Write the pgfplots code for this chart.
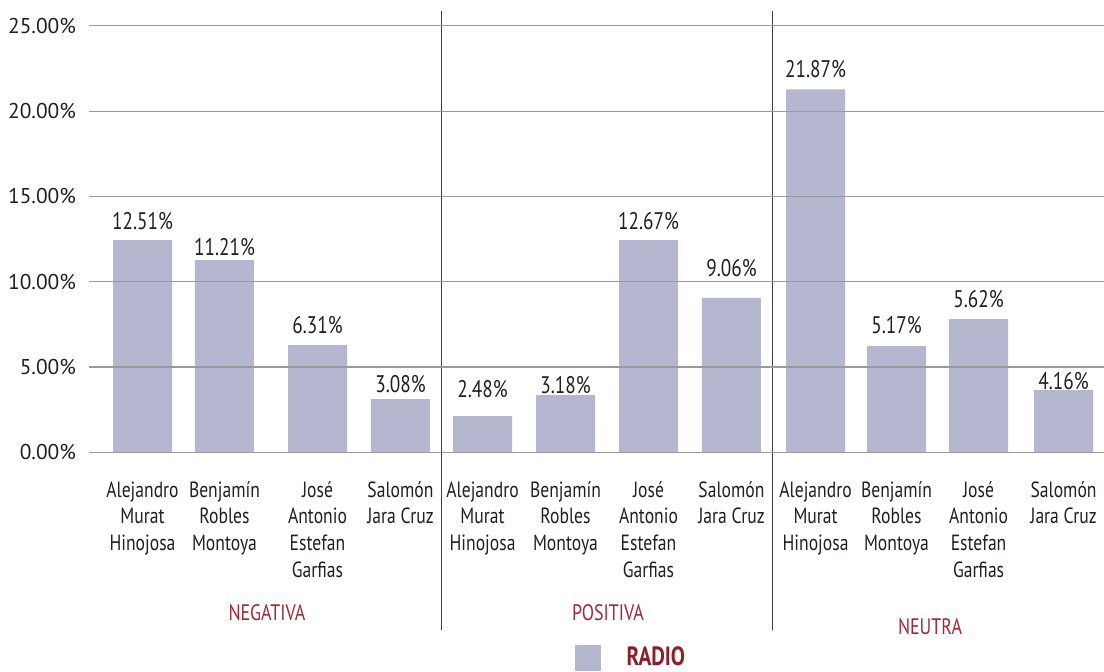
\documentclass[border=0pt]{standalone}
\usepackage{pgfplots}
\pgfplotsset{compat=1.18}
\usepackage{pgfplotstable}
\usepackage{fontspec}
\setmainfont{PT Sans}
\newfontfamily\cond[FakeStretch=0.8]{PT Sans}
\definecolor{barc}{HTML}{B4B7CF}
\definecolor{gridc}{HTML}{9A9A9A}
\definecolor{sepc}{HTML}{404040}
\definecolor{zeroc}{HTML}{4A4A5E}
\definecolor{textc}{HTML}{231F20}
\definecolor{redc}{HTML}{9E2A38}
\definecolor{radioc}{HTML}{8C1D2B}

\pgfplotstableread{
x      h      ly     lbl
0.000  12.44  13.06  12.51
0.979  11.27  11.56  11.21
2.090  6.29   6.97   6.31
3.081  3.12   3.49   3.08
4.061  2.13   3.22   2.48
5.052  3.36   3.46   3.18
6.043  12.44  13.06  12.67
7.034  9.06   10.29  9.06
8.038  21.28  21.97  21.87
9.005  6.23   6.97   5.17
9.985  7.81   8.49   5.62
11.000 3.65   3.69   4.16
}\data

\begin{document}
\begin{tikzpicture}
\useasboundingbox (-44.5pt,-109.35pt) rectangle (507.5pt,226.2pt);
\begin{axis}[
  at={(0,0)}, anchor=south west,
  scale only axis, width=507.5pt, height=213.3pt,
  xmin=-0.639, xmax=11.483, ymin=0, ymax=25,
  clip=false, axis on top,
  axis line style={draw=none}, major tick length=0pt,
  ytick={0,5,...,25},
  ymajorgrids, grid style={draw=gridc, line width=0.6pt},
  yticklabel={\pgfmathprintnumber[fixed,fixed zerofill,precision=2]{\tick}\%},
  /pgf/number format/assume math mode=true,
  yticklabel style={font=\fontsize{10.7}{12}\selectfont, text=textc, xshift=-3pt},
  xtick={0.000,0.979,2.090,3.081,4.061,5.052,6.043,7.034,8.038,9.005,9.985,11.000},
  xticklabels={{Alejandro\\Murat\\Hinojosa},{Benjamín\\Robles\\Montoya},{José\\Antonio\\Estefan\\Garfias},{Salomón\\Jara Cruz},
               {Alejandro\\Murat\\Hinojosa},{Benjamín\\Robles\\Montoya},{José\\Antonio\\Estefan\\Garfias},{Salomón\\Jara Cruz},
               {Alejandro\\Murat\\Hinojosa},{Benjamín\\Robles\\Montoya},{José\\Antonio\\Estefan\\Garfias},{Salomón\\Jara Cruz}},
  xticklabel style={align=center, font=\cond\fontsize{11}{13.3}\selectfont, text=textc, yshift=-11pt},
  legend style={at={(0.478,-0.481)}, anchor=west, draw=none, fill=none,
    font=\cond\bfseries\fontsize{13.2}{15}\selectfont, text=radioc, inner sep=0pt,
    legend cell align=left},
  legend image code/.code={\fill[barc] (0pt,-6.5pt) rectangle (13pt,6.5pt);},
]
\addplot[ybar, bar width=29.5pt, fill=barc, draw=none] table[x=x, y=h] {\data};
\addlegendentry{\hspace{11pt}RADIO}
\addplot[draw=none, mark=none, forget plot, nodes near coords={\pgfplotspointmeta\%},
  point meta=explicit symbolic,
  nodes near coords style={anchor=base, inner sep=0pt, text=textc, font=\cond\fontsize{12}{14}\selectfont}]
  table[x=x, y=ly, meta=lbl] {\data};
\draw[zeroc, line width=0.8pt] (axis cs:-0.639,0) -- (axis cs:11.483,0);
\draw[sepc, line width=0.7pt] ({axis cs:3.572,0}|-{rel axis cs:0,1.034}) -- ({axis cs:3.572,0}|-{rel axis cs:0,-0.4166});
\draw[sepc, line width=0.7pt] ({axis cs:7.524,0}|-{rel axis cs:0,1.034}) -- ({axis cs:7.524,0}|-{rel axis cs:0,-0.4166});
\node[text=redc, font=\cond\fontsize{11.2}{13}\selectfont] at ({axis cs:1.487,0}|-{rel axis cs:0,-0.3767}) {NEGATIVA};
\node[text=redc, font=\cond\fontsize{11.2}{13}\selectfont] at ({axis cs:5.56,0}|-{rel axis cs:0,-0.3767}) {POSITIVA};
\node[text=redc, font=\cond\fontsize{11.2}{13}\selectfont] at ({axis cs:9.405,0}|-{rel axis cs:0,-0.4096}) {NEUTRA};
\end{axis}
\end{tikzpicture}
\end{document}
